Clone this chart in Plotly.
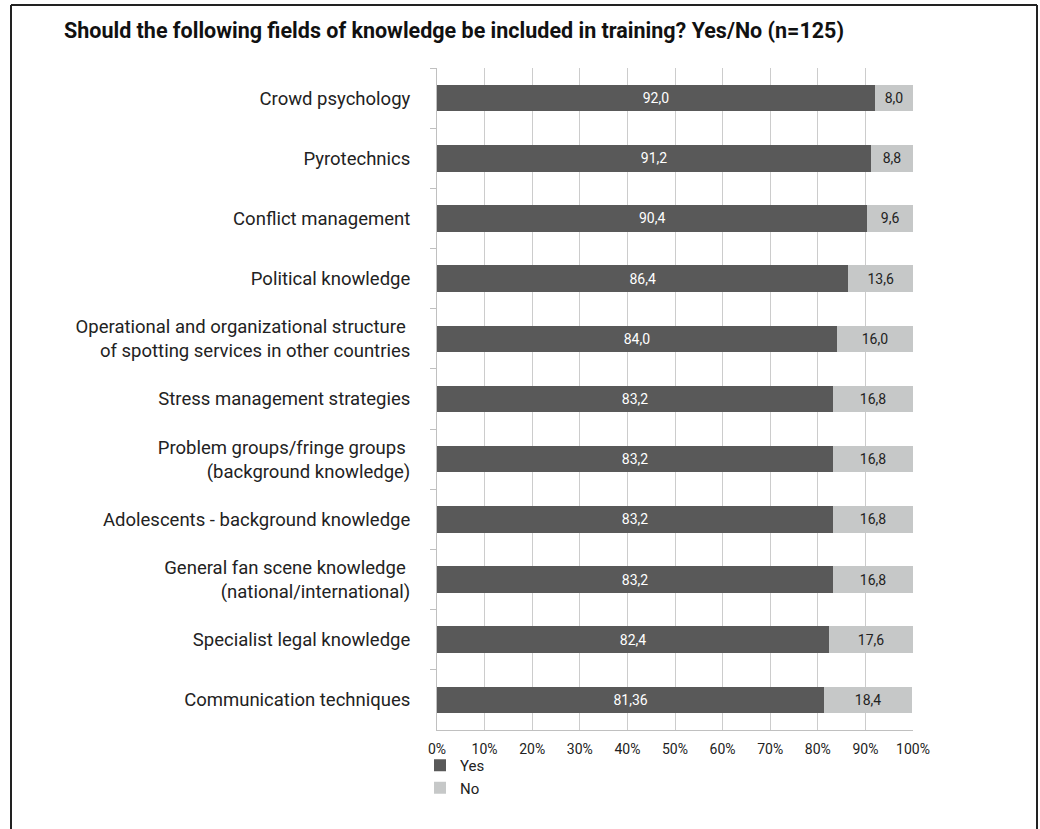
import plotly.graph_objects as go

categories = [
    "Crowd psychology",
    "Pyrotechnics",
    "Conflict management",
    "Political knowledge",
    "Operational and organizational structure <br>of spotting services in other countries",
    "Stress management strategies",
    "Problem groups/fringe groups <br>(background knowledge)",
    "Adolescents - background knowledge",
    "General fan scene knowledge <br>(national/international)",
    "Specialist legal knowledge",
    "Communication techniques",
]
yes_values = [92.0, 91.2, 90.4, 86.4, 84.0, 83.2, 83.2, 83.2, 83.2, 82.4, 81.36]
no_values = [8.0, 8.8, 9.6, 13.6, 16.0, 16.8, 16.8, 16.8, 16.8, 17.6, 18.4]
yes_labels = ["92,0", "91,2", "90,4", "86,4", "84,0", "83,2", "83,2", "83,2", "83,2", "82,4", "81,36"]
no_labels = ["8,0", "8,8", "9,6", "13,6", "16,0", "16,8", "16,8", "16,8", "16,8", "17,6", "18,4"]
x_ticks = [0, 10, 20, 30, 40, 50, 60, 70, 80, 90, 100]
x_tick_labels = ["0%", "10%", "20%", "30%", "40%", "50%", "60%", "70%", "80%", "90%", "100%"]

FONT = "Roboto"
W, H = 1040, 829
# target screen positions of plot area (body margin removed by post_script)
SX0, SX1, SY0, SY1 = 437, 913, 68, 730
L = SX0
R = W - SX1
T = SY0
B = H - SY1
PW, PH = W - L - R, H - T - B


def px_x(sx):
    return (sx - L) / PW


def px_y(sy):
    return (H - B - sy) / PH


fig = go.Figure()
fig.add_trace(go.Bar(
    y=categories, x=yes_values, name="Yes", orientation="h",
    marker=dict(color="#595959", line=dict(width=0)),
    text=yes_labels, textposition="inside", insidetextanchor="middle",
    textfont=dict(color="white", size=14, family=FONT),
))
fig.add_trace(go.Bar(
    y=categories, x=no_values, name="No", orientation="h",
    marker=dict(color="#c6c8c8", line=dict(width=0)),
    text=no_labels, textposition="inside", insidetextanchor="middle",
    textfont=dict(color="#222222", size=14, family=FONT),
))

shapes = [
    dict(type="line", xref="paper", yref="paper", x0=px_x(11), x1=px_x(11), y0=px_y(5), y1=px_y(845),
         line=dict(color="#222222", width=2)),
    dict(type="line", xref="paper", yref="paper", x0=px_x(11), x1=px_x(1037), y0=px_y(5), y1=px_y(5),
         line=dict(color="#222222", width=2)),
    dict(type="line", xref="paper", yref="paper", x0=px_x(1037), x1=px_x(1037), y0=px_y(5), y1=px_y(845),
         line=dict(color="#222222", width=2)),
]

fig.update_layout(
    width=W, height=H,
    margin=dict(l=L, r=R, t=T, b=B, pad=0),
    barmode="stack",
    bargap=0.56,
    plot_bgcolor="white", paper_bgcolor="white",
    font=dict(family=FONT, size=18, color="#222222"),
    title=dict(
        text="<b>Should the following fields of knowledge be included in training? Yes/No (n=125)</b>",
        x=64 / W, xanchor="left", xref="container",
        y=1 - 30 / H, yanchor="middle", yref="container",
        font=dict(family=FONT, size=21.5, color="#111111"),
    ),
    xaxis=dict(
        range=[0, 100], tickmode="array", tickvals=x_ticks, ticktext=x_tick_labels,
        showgrid=True, gridcolor="#cccccc", gridwidth=1,
        showline=True, linecolor="#c0c0c0", linewidth=1,
        ticks="", zeroline=False,
        tickfont=dict(size=14, family=FONT, color="#222222"),
        ticklabelstandoff=6,
    ),
    yaxis=dict(
        autorange="reversed",
        showline=True, linecolor="#c0c0c0", linewidth=1,
        ticks="outside", tickson="boundaries", ticklen=6, tickcolor="#c0c0c0",
        showgrid=False,
        tickfont=dict(size=18.5, family=FONT, color="#222222"),
        ticklabelstandoff=22,
    ),
    legend=dict(
        orientation="v", x=px_x(420), xanchor="left", y=px_y(749), yanchor="top",
        font=dict(size=15, family=FONT, color="#222222"),
        traceorder="normal", tracegroupgap=0,
        bgcolor="rgba(0,0,0,0)",
    ),
    shapes=shapes,
    showlegend=True,
)

fig.write_html(
    "out.html",
    config={"displayModeBar": False},
    post_script="document.body.style.margin='0';document.body.style.overflow='hidden';",
)
